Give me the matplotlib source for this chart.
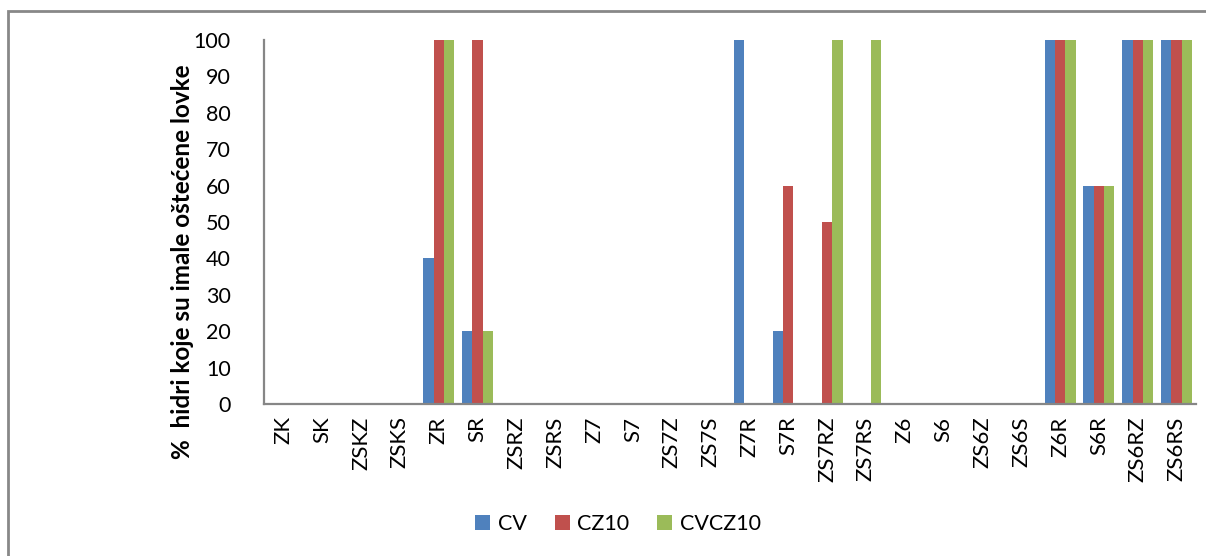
import numpy as np
import matplotlib.pyplot as plt
from matplotlib.patches import Rectangle

plt.rcParams['font.family'] = ['Lato', 'DejaVu Sans']

categories = ['ZK', 'SK', 'ZSKZ', 'ZSKS', 'ZR', 'SR', 'ZSRZ', 'ZSRS',
              'Z7', 'S7', 'ZS7Z', 'ZS7S', 'Z7R', 'S7R', 'ZS7RZ', 'ZS7RS',
              'Z6', 'S6', 'ZS6Z', 'ZS6S', 'Z6R', 'S6R', 'ZS6RZ', 'ZS6RS']
cv     = [0, 0, 0, 0, 40, 20, 0, 0, 0, 0, 0, 0, 100, 20, 0, 0, 0, 0, 0, 0, 100, 60, 100, 100]
cz10   = [0, 0, 0, 0, 100, 100, 0, 0, 0, 0, 0, 0, 0, 60, 50, 0, 0, 0, 0, 0, 100, 60, 100, 100]
cvcz10 = [0, 0, 0, 0, 100, 20, 0, 0, 0, 0, 0, 0, 0, 0, 100, 100, 0, 0, 0, 0, 100, 60, 100, 100]
series = [('CV', cv, '#4F81BD'), ('CZ10', cz10, '#C0504D'), ('CVCZ10', cvcz10, '#9BBB59')]

fig = plt.figure(figsize=(12.06, 5.56), dpi=100)
ax = fig.add_axes([264 / 1206, 1 - 404 / 556, (1196 - 264) / 1206, (404 - 40) / 556])

x = np.arange(len(categories))
w = 0.265
for k, (name, vals, col) in enumerate(series):
    ax.bar(x + (k - 1) * w, vals, w, color=col, label=name, zorder=2)

ax.set_xlim(-0.5, len(categories) - 0.5)
ax.set_ylim(0, 100)
ax.set_yticks(range(0, 101, 10))
ax.set_xticks(x)
ax.set_xticklabels(categories, rotation=90, fontsize=16)
ax.tick_params(axis='y', labelsize=15.5, length=0, pad=24)
ax.tick_params(axis='x', length=0, pad=9)
for s in ['top', 'right']:
    ax.spines[s].set_visible(False)
for s in ['left', 'bottom']:
    ax.spines[s].set_color('#868686')
    ax.spines[s].set_linewidth(1.6)

fig.text(183 / 1206, 1 - 262 / 556, '%  hidri koje su imale oštećene lovke',
         rotation=90, ha='center', va='center', fontsize=17.5, fontweight='bold')

fig.legend(loc='center', bbox_to_anchor=(618 / 1206, 1 - 524 / 556), ncol=3,
           frameon=False, fontsize=15.5, handlelength=0.7, handleheight=0.7,
           handletextpad=0.35, columnspacing=1.3)

# outer chart frame (only left and top edges visible in the crop)
fig.patches.append(Rectangle((8 / 1206, -0.1), 1.2, 1 - 11 / 556 + 0.1,
                             transform=fig.transFigure, fill=False,
                             edgecolor='#888888', linewidth=2))

fig.savefig('out.png', dpi=100)
